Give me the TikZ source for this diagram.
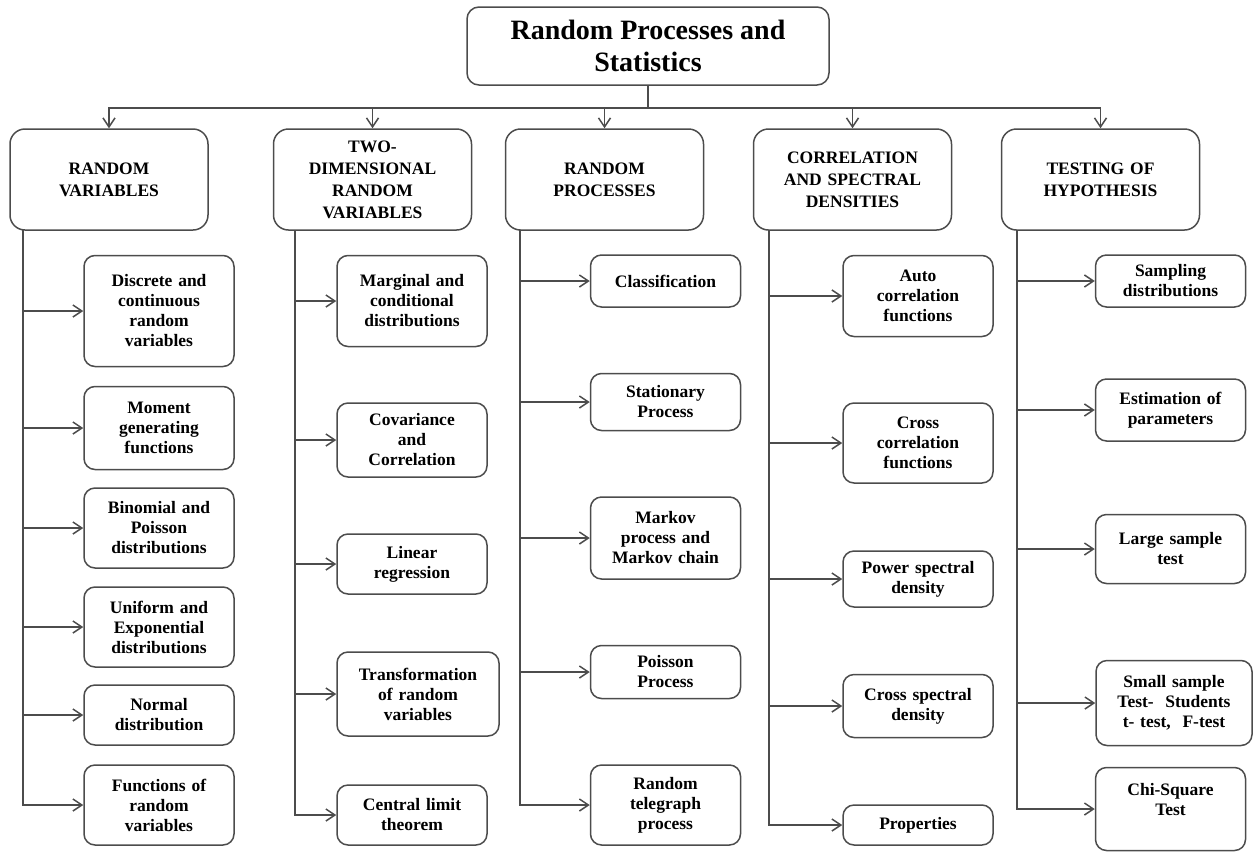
\documentclass[tikz,border=0pt]{standalone}
\usepackage{fontspec}
\setmainfont{Liberation Serif}
\usetikzlibrary{arrows.meta}

\begin{document}
\begin{tikzpicture}[
                x=1pt, y=-1pt,
                every node/.style={draw=black!70, line width=1.5pt, align=center, font=\bfseries},
                topbox/.style={rounded corners=12pt, minimum width=362pt, minimum height=78pt, font=\fontsize{28}{32}\selectfont\bfseries},
                cat/.style={rounded corners=15pt, text width=192pt, inner xsep=3pt, minimum height=101pt, font=\fontsize{17.5}{22}\selectfont\bfseries},
                leaf/.style={rounded corners=11pt, text width=144pt, inner xsep=3pt, font=\fontsize{17.5}{20}\selectfont\bfseries},
                arr/.style={draw=black!70, line width=1.5pt, -{Straight Barb[length=9pt, width=12pt]}}
            ]
                \useasboundingbox (0,0) rectangle (1253,852);
                \node[topbox] (title) at (648,46) {Random Processes and\\ Statistics};
                \node[cat] (cat1) at (109,179.5) {RANDOM\\ VARIABLES};
                \node[cat] (cat2) at (372.5,179.5) {TWO-\\ DIMENSIONAL\\ RANDOM\\ VARIABLES};
                \node[cat] (cat3) at (604.5,179.5) {RANDOM\\ PROCESSES};
                \node[cat] (cat4) at (852.5,179.5) {CORRELATION\\ AND SPECTRAL\\ DENSITIES};
                \node[cat] (cat5) at (1100.5,179.5) {TESTING OF\\ HYPOTHESIS};
                \foreach \n in {1,...,5}
                    \draw[arr] (title.south) -- ++(0,22) -| (cat\n.north);

                \node[leaf, minimum height=111pt] (c11) at (159,311) {Discrete and\\ continuous\\ random\\ variables};
                \node[leaf, minimum height=83pt] (c12) at (159,428) {Moment\\ generating\\ functions};
                \node[leaf, minimum height=80pt] (c13) at (159,528) {Binomial and\\ Poisson\\ distributions};
                \node[leaf, minimum height=80pt] (c14) at (159,627) {Uniform and\\ Exponential\\ distributions};
                \node[leaf, minimum height=60pt] (c15) at (159,715) {Normal\\ distribution};
                \node[leaf, minimum height=80pt] (c16) at (159,805) {Functions of\\ random\\ variables};

                \node[leaf, minimum height=91pt] (c21) at (412,301) {Marginal and\\ conditional\\ distributions};
                \node[leaf, minimum height=74pt] (c22) at (412,440) {Covariance\\ and\\ Correlation};
                \node[leaf, minimum height=60pt] (c23) at (412,564) {Linear\\ regression};
                \node[leaf, minimum height=84pt, text width=156pt] (c24) at (418,694) {Transformation\\ of random\\ variables};
                \node[leaf, minimum height=60pt] (c25) at (412,815) {Central limit\\ theorem};

                \node[leaf, minimum height=52pt] (c31) at (665.5,281) {Classification};
                \node[leaf, minimum height=57pt] (c32) at (665.5,402) {Stationary\\ Process};
                \node[leaf, minimum height=82pt] (c33) at (665.5,538) {Markov\\ process and\\ Markov chain};
                \node[leaf, minimum height=53pt] (c34) at (665.5,672) {Poisson\\ Process};
                \node[leaf, minimum height=80pt] (c35) at (665.5,805) {Random\\ telegraph\\ process};

                \node[leaf, minimum height=81pt] (c41) at (918,296) {Auto\\ correlation\\ functions};
                \node[leaf, minimum height=80pt] (c42) at (918,443) {Cross\\ correlation\\ functions};
                \node[leaf, minimum height=56pt] (c43) at (918,579) {Power spectral\\ density};
                \node[leaf, minimum height=63pt] (c44) at (918,706) {Cross spectral\\ density};
                \node[leaf, minimum height=40pt] (c45) at (918,825) {Properties};

                \node[leaf, minimum height=52pt] (c51) at (1170.5,281) {Sampling\\ distributions};
                \node[leaf, minimum height=62pt] (c52) at (1170.5,410) {Estimation of\\ parameters};
                \node[leaf, minimum height=69pt] (c53) at (1170.5,549) {Large sample\\ test};
                \node[leaf, minimum height=85pt, text width=150pt] (c54) at (1174,703) {Small sample\\ Test-~ Students\\ t- test,~ F-test};
                \node[leaf, minimum height=83pt] (c55) at (1170.5,809) {Chi-Square\\ Test\\ \mbox{}};

                \coordinate (v1) at (23,230);
                \coordinate (v2) at (295,230);
                \coordinate (v3) at (520,230);
                \coordinate (v4) at (769,230);
                \coordinate (v5) at (1017,230);
                \foreach \n in {1,...,6}
                    \draw[arr] (v1) |- (c1\n.west);
                \foreach \n in {1,...,5} {
                    \draw[arr] (v2) |- (c2\n.west);
                    \draw[arr] (v3) |- (c3\n.west);
                    \draw[arr] (v4) |- (c4\n.west);
                    \draw[arr] (v5) |- (c5\n.west);
                }
            \end{tikzpicture}
\end{document}
